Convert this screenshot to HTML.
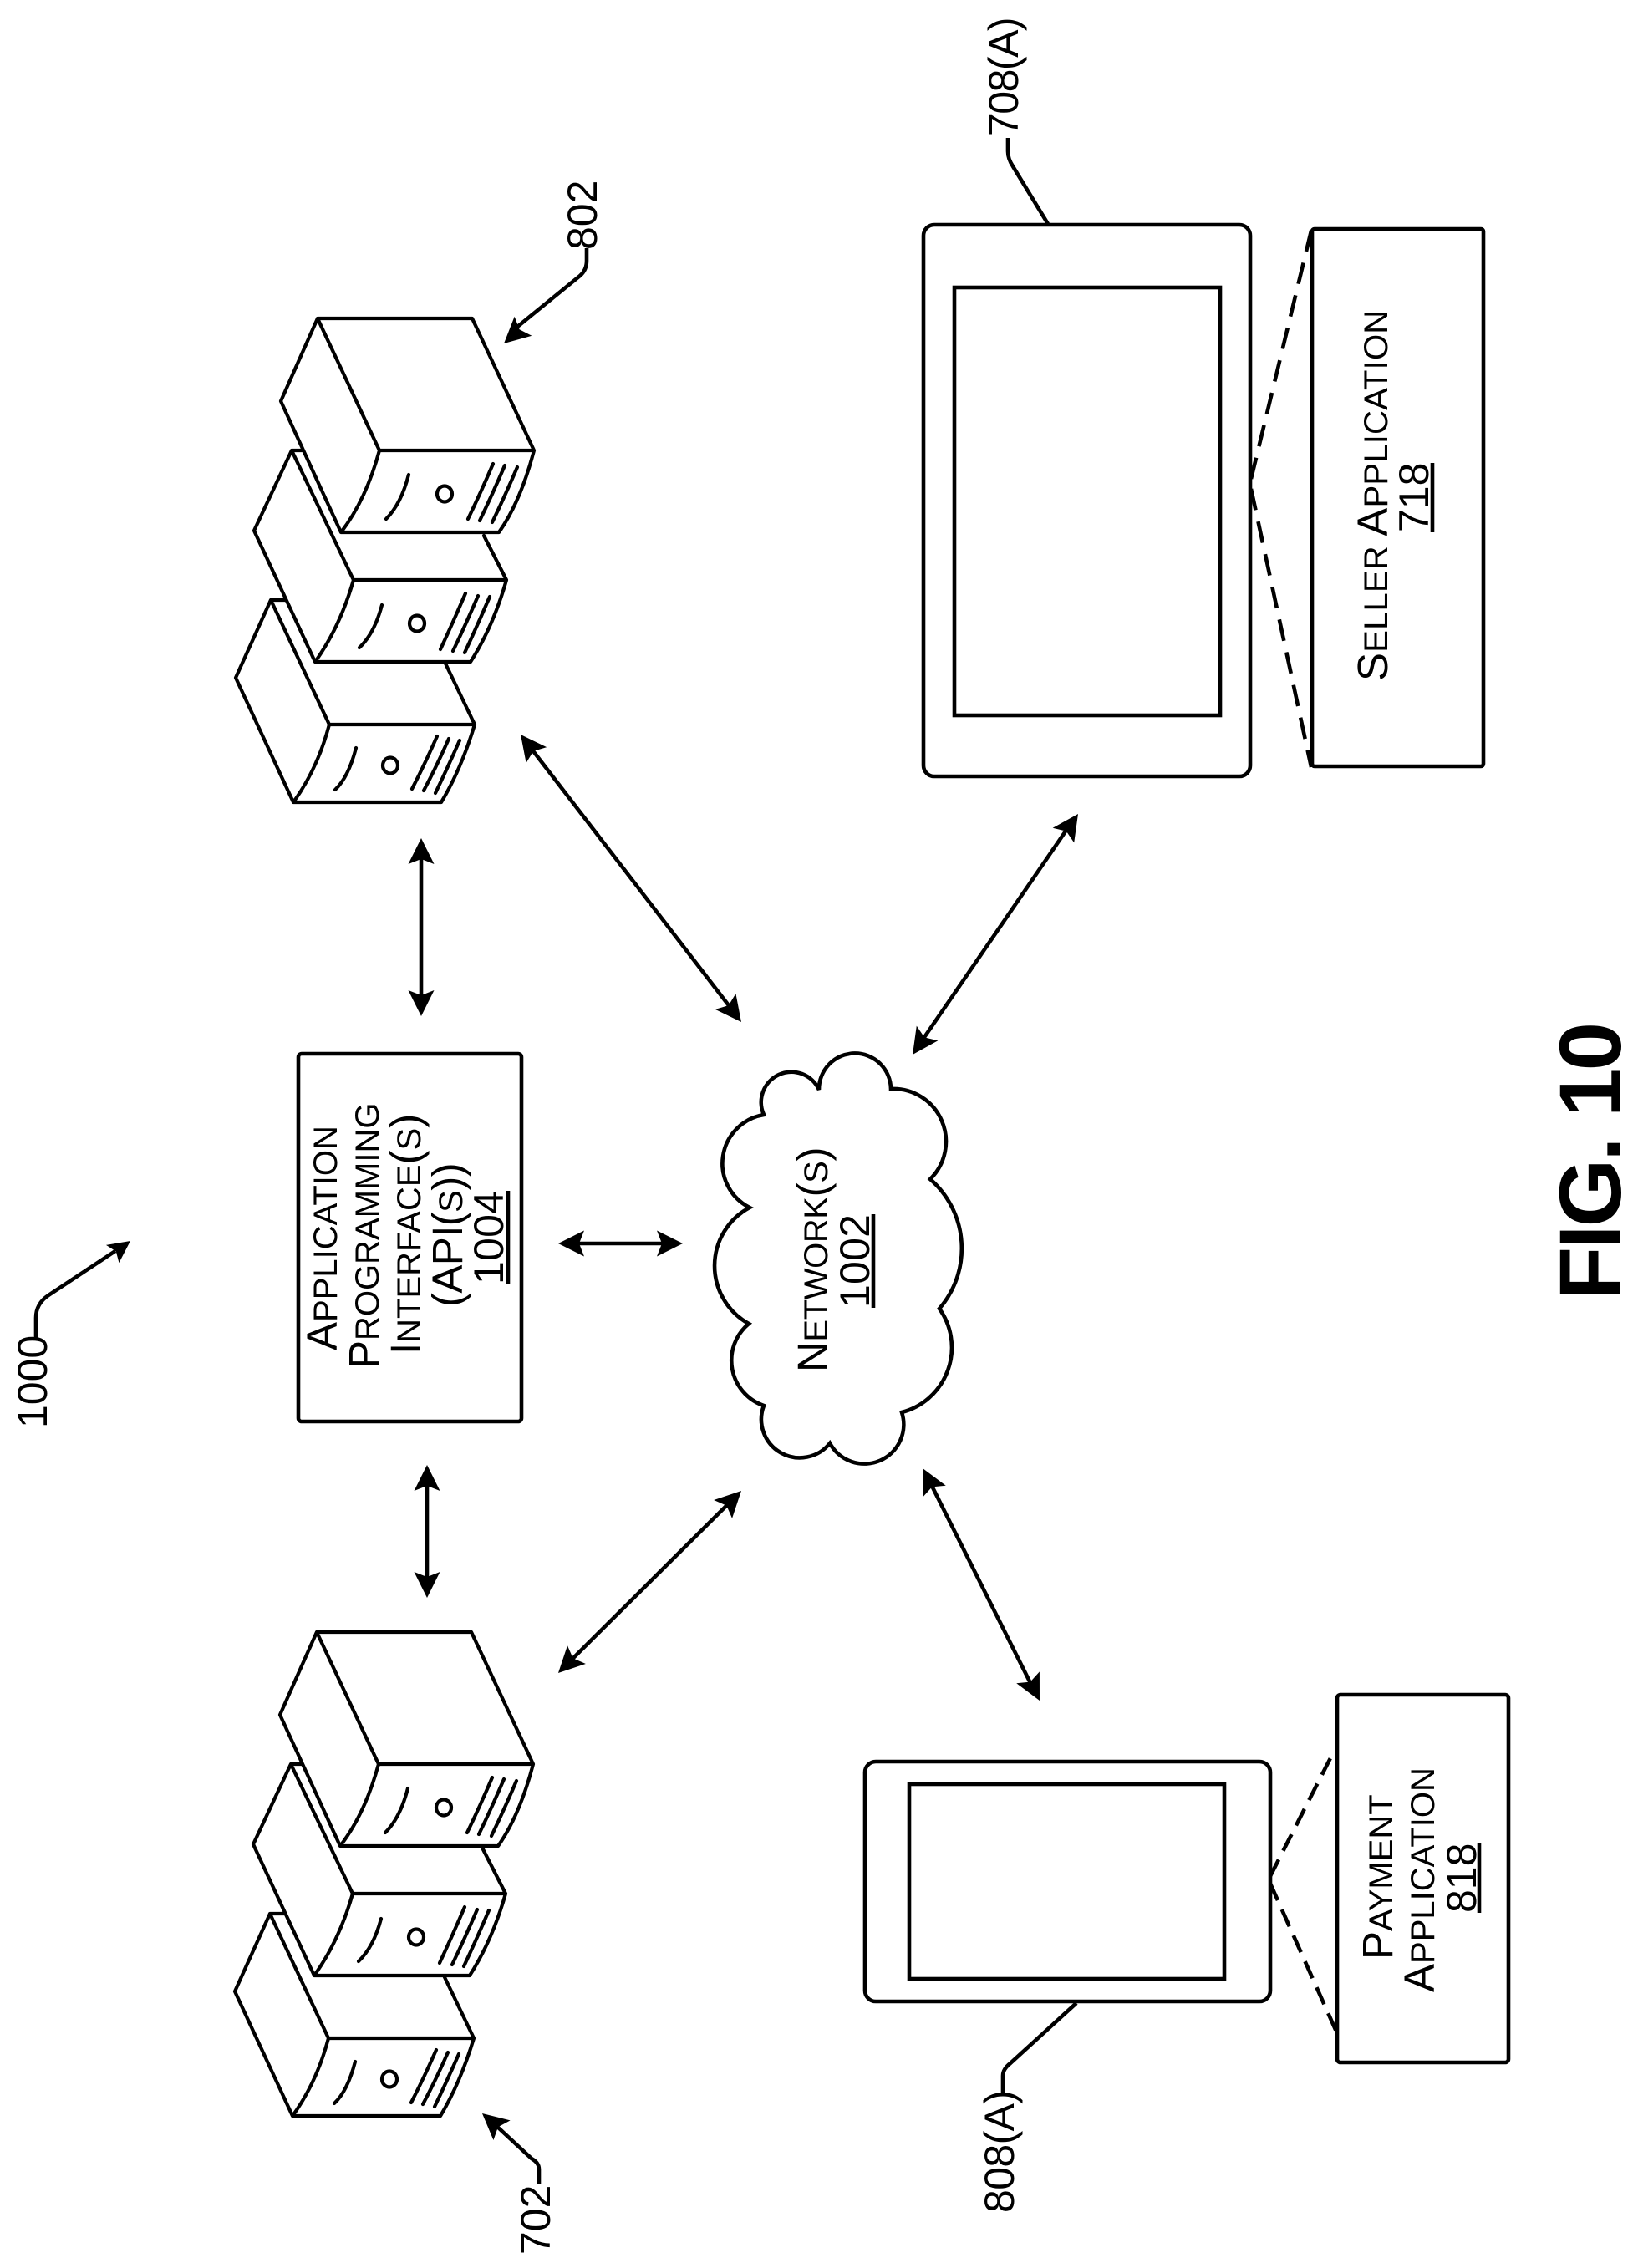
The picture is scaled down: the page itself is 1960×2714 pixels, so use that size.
<!DOCTYPE html>
<html><head><meta charset="utf-8"><style>
html,body{margin:0;padding:0;background:#fff}
svg{display:block}
text{font-family:"Liberation Sans",sans-serif;fill:#000}
.s{fill:none;stroke:#000;stroke-width:4.2;stroke-linejoin:round;stroke-linecap:round}
.l{fill:none;stroke:#000;stroke-width:4.6}
.b{fill:#fff;stroke:#000;stroke-width:4.6}
.c{font-size:51px}.m{font-size:40px}.n{font-size:50px}
</style></head><body>
<svg width="1960" height="2714" viewBox="0 0 1960 2714" xmlns="http://www.w3.org/2000/svg">
<defs>
<polygon id="h" points="0,0 -31,-15.5 -25,0 -31,15.5" fill="#000"/>
<g id="stack" class="s">
<path d="M380 381H565L639 539H454ZM380 381L336 480L408 637H597Q623 600 639 539M454 539Q438 598 408 637"/>
<path d="M489 568Q480 603 462 621M590 555Q575 590 560 621M604 557Q589 592 574 623M619 559Q604 594 589 625"/>
<ellipse cx="532" cy="591" rx="9" ry="9.5"/>
<path d="M362 539H349L423 694H606L579 641M349 539L304 635L377 792H563Q590 750 606 694M423 694Q407 750 377 792"/>
<path d="M457 724Q448 758 430 775M557 710Q542 745 527 777M572 713Q557 748 542 779M586 714Q571 749 556 781"/>
<ellipse cx="499" cy="746" rx="9" ry="9.5"/>
<path d="M342 718H324L394 867H568L533 794M324 718L282 811L351 960H528Q552 920 568 867M394 867Q380 920 351 960"/>
<path d="M426 895Q417 930 401 945M523 881Q508 915 493 944M537 884Q522 918 507 946M550 886Q535 920 521 949"/>
<ellipse cx="467" cy="916" rx="9" ry="9.5"/>
</g>
</defs>

<use href="#stack"/>
<use href="#stack" transform="translate(-1,1572)"/>

<!-- API box -->
<rect class="b" x="357" y="1261" width="267" height="440" rx="4"/>
<text transform="translate(403,1616) rotate(-90)" class="m"><tspan class="c">A</tspan>PPLICATION</text>
<text transform="translate(453,1638) rotate(-90)" class="m"><tspan class="c">P</tspan>ROGRAMMING</text>
<text transform="translate(503,1621) rotate(-90)" class="m"><tspan class="c">I</tspan>NTERFACE<tspan class="c">(</tspan>S<tspan class="c">)</tspan></text>
<text transform="translate(553,1564) rotate(-90)" class="m" style="letter-spacing:-.6px"><tspan class="c">(API(</tspan>S<tspan class="c">))</tspan></text>
<text transform="translate(602,1537) rotate(-90)" class="n" textLength="112" lengthAdjust="spacing">1004</text>
<path class="l" d="M608 1537V1425"/>

<!-- Cloud -->
<path class="b" d="M980 1304A43 43 0 1 1 1066 1303A63 63 0 0 1 1113 1411A110 110 0 0 1 1124 1566A80 80 0 0 1 1079 1690A47 47 0 0 1 993 1727A46 46 0 0 1 914 1682A57 57 0 0 1 896 1584A79 79 0 0 1 897 1445A59 59 0 0 1 914 1334A36 36 0 0 1 980 1304Z"/>
<text transform="translate(990,1642) rotate(-90)" class="m" style="letter-spacing:-.4px"><tspan class="c">N</tspan>ETWORK<tspan class="c">(</tspan>S<tspan class="c">)</tspan></text>
<text transform="translate(1040,1565) rotate(-90)" class="n" textLength="112" lengthAdjust="spacing">1002</text>
<path class="l" d="M1045 1565V1453"/>

<!-- Seller device -->
<rect class="b" x="1105" y="269" width="391" height="660" rx="13"/>
<rect class="b" x="1142" y="344" width="318" height="512"/>
<rect class="b" x="1570" y="274" width="205" height="643" rx="3"/>
<path class="l" stroke-dasharray="26 14" d="M1497 573L1569 276"/>
<path class="l" stroke-dasharray="26 14" d="M1497 585L1569 918"/>
<text transform="translate(1660,815) rotate(-90)" class="m" style="letter-spacing:.2px"><tspan class="c">S</tspan>ELLER <tspan class="c">A</tspan>PPLICATION</text>
<text transform="translate(1709,637) rotate(-90)" class="n">718</text>
<path class="l" d="M1714 637V554"/>
<path class="l" d="M1254 268L1212 199Q1206 190 1206 181V165"/>
<text transform="translate(1218,163) rotate(-90)" class="n" style="letter-spacing:-1.5px">708(A)</text>

<!-- Payment device -->
<rect class="b" x="1035" y="2108" width="485" height="287" rx="13"/>
<rect class="b" x="1088" y="2135" width="377" height="233"/>
<rect class="b" x="1600" y="2028" width="205" height="440" rx="4"/>
<path class="l" stroke-dasharray="22 12" d="M1520 2245L1597 2094"/>
<path class="l" stroke-dasharray="22 12" d="M1520 2254L1599 2431"/>
<text transform="translate(1666,2345) rotate(-90)" class="m"><tspan class="c">P</tspan>AYMENT</text>
<text transform="translate(1716,2384) rotate(-90)" class="m"><tspan class="c">A</tspan>PPLICATION</text>
<text transform="translate(1766,2289) rotate(-90)" class="n">818</text>
<path class="l" d="M1770 2289V2206"/>
<path class="l" d="M1288 2397L1209 2469Q1200 2476 1200 2484V2504"/>
<text transform="translate(1213,2648) rotate(-90)" class="n" style="letter-spacing:-.6px">808(A)</text>

<!-- Double arrows -->
<path class="l" d="M632 891L878 1211"/>
<use href="#h" transform="translate(623,879) rotate(232.5)"/>
<use href="#h" transform="translate(887,1223) rotate(52.5)"/>
<path class="l" d="M504 1018V1201"/>
<use href="#h" transform="translate(504,1003) rotate(-90)"/>
<use href="#h" transform="translate(504,1216) rotate(90)"/>
<path class="l" d="M683 1488H802"/>
<use href="#h" transform="translate(668,1488) rotate(180)"/>
<use href="#h" transform="translate(817,1488)"/>
<path class="l" d="M511 1768V1897"/>
<use href="#h" transform="translate(511,1753) rotate(-90)"/>
<use href="#h" transform="translate(511,1912) rotate(90)"/>
<path class="l" d="M876 1795L679 1991"/>
<use href="#h" transform="translate(887,1784) rotate(-45)"/>
<use href="#h" transform="translate(668,2002) rotate(135)"/>
<path class="l" d="M1281 986L1100 1250"/>
<use href="#h" transform="translate(1290,974) rotate(-55.5)"/>
<use href="#h" transform="translate(1092,1262) rotate(124.5)"/>
<path class="l" d="M1111 1770L1237 2022"/>
<use href="#h" transform="translate(1104,1757) rotate(243.3)"/>
<use href="#h" transform="translate(1244,2035) rotate(63.3)"/>

<!-- Reference leaders -->
<path class="l" d="M702 297V312Q702 323 694 330L613 396"/>
<use href="#h" transform="translate(603,411) rotate(138)"/>
<text transform="translate(714,299) rotate(-90)" class="n">802</text>
<path class="l" d="M645 2614V2596Q645 2588 636 2583L594 2544"/>
<use href="#h" transform="translate(577,2529) rotate(220.6)"/>
<text transform="translate(658,2698) rotate(-90)" class="n">702</text>
<path class="l" d="M43 1601V1577Q43 1560 58 1550L138 1497"/>
<use href="#h" transform="translate(156,1485) rotate(-36) scale(.85)"/>
<text transform="translate(56,1709) rotate(-90)" class="n">1000</text>

<text transform="translate(1939,1556) rotate(-90)" font-size="105" font-weight="bold" textLength="333" lengthAdjust="spacing">FIG. 10</text>
</svg>
</body></html>
